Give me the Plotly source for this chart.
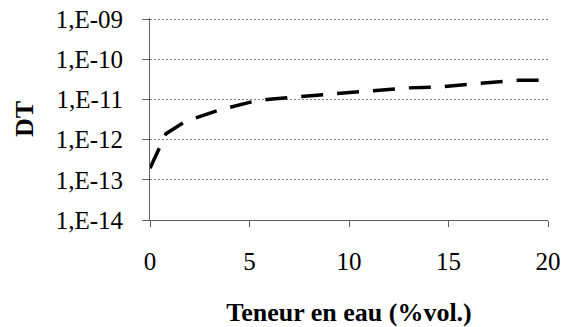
import plotly.graph_objects as go

teneur = [0, 0.8, 1.8, 2.5, 3.5, 5.0, 6.0, 7.5, 9.0, 11.0, 13.0, 14.5, 16.5, 18.5, 20.0]
dt = [1.95e-13, 1.4e-12, 2.9e-12, 3.7e-12, 5.5e-12, 8.5e-12, 1.02e-11, 1.18e-11, 1.33e-11,
      1.63e-11, 1.95e-11, 2.05e-11, 2.5e-11, 3.0e-11, 3.0e-11]

y_tickvals = [1e-14, 1e-13, 1e-12, 1e-11, 1e-10, 1e-9]
y_ticktext = ["1,E-14", "1,E-13", "1,E-12", "1,E-11", "1,E-10", "1,E-09"]
x_tickvals = [0, 5, 10, 15, 20]

FONT = "Liberation Serif"
AX = "#606060"
FS = 25
TFS = 26

fig = go.Figure()
fig.add_trace(go.Scatter(x=teneur, y=dt, mode="lines",
                         line=dict(color="black", width=3.5, dash="22px,14px"),
                         showlegend=False, hoverinfo="skip", cliponaxis=False))

fig.update_layout(
    width=569, height=327,
    margin=dict(l=150, r=21, t=18, b=107),
    paper_bgcolor="white", plot_bgcolor="white",
    font=dict(family=FONT, size=FS, color="black"),
)
fig.update_xaxes(range=[0, 20], tickvals=x_tickvals, ticks="outside", ticklen=6,
                 tickcolor=AX, tickwidth=1, showline=True, linecolor=AX, linewidth=1,
                 showgrid=False, zeroline=False, ticklabelstandoff=13, automargin=False,
                 tickfont=dict(family=FONT, size=FS, color="black"),
                 title=dict(text="<b>Teneur en eau (%vol.)</b>", standoff=30,
                            font=dict(family=FONT, size=TFS)))
fig.update_yaxes(type="log", range=[-14, -8.97], tickvals=y_tickvals, ticktext=y_ticktext,
                 ticks="outside", ticklen=7, tickcolor=AX, tickwidth=1,
                 showline=True, linecolor=AX, linewidth=1,
                 showgrid=True, gridcolor="#808080", gridwidth=1, griddash="2px,2px",
                 zeroline=False, ticklabelstandoff=14, automargin=False,
                 tickfont=dict(family=FONT, size=FS, color="black"),
                 title=dict(text="<b>DT</b>", standoff=14,
                            font=dict(family=FONT, size=TFS)))

fig.write_html("out.html", config={"displayModeBar": False},
               post_script="document.body.style.margin='0';")
